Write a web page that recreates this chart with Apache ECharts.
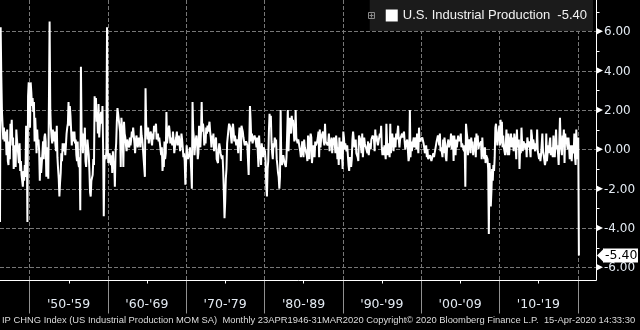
<!DOCTYPE html>
<html><head><meta charset="utf-8">
<script src="https://cdn.jsdelivr.net/npm/echarts@6/dist/echarts.min.js"></script>
<style>html,body{margin:0;padding:0;background:#000;}#c{width:640px;height:330px;}</style>
</head><body><div id="c"></div>
<script>
// Monthly % change, starting April 1946
const ip1940s = [
 -3.7, 6.2, 3.7, 1.9, 1.2, 0.5, 1.1, 0.4, 0.9,
 0.7, -0.3, 1.0, -0.6, -0.8, 0.4, -0.5, 1.3, 0.8, 1.5, 0.2, 0.6,
 -1.0, -0.4, 0.2, -0.9, 1.0, 0.5, 0.1, -0.3, -0.7, 0.3, -1.1, -0.6,
 -1.3, -1.2, -1.9, -1.1, -1.6, -0.8, -1.4, 1.2, 0.6, -3.7, 2.7, 3.4
];
const ip1950s = [
 3.2, 1.1, 3.4, 2.9, 2.2, 2.6, 1.9, 2.4, 0.4, 1.6, 0.8, -0.2,
 1.0, 0.3, 0.5, -0.1, -1.6, -0.4, -1.2, -0.7, -0.2, 0.4, -0.5, 0.6,
 0.8, 0.4, -1.4, 0.1, -0.6, -1.5, -1.6, 6.5, 2.1, 1.1, 0.6, 0.3,
 1.0, 0.6, 0.4, 0.9, 0.2, -0.1, 1.2, -0.4, -1.0, -1.5, -2.4, -1.7,
 -1.2, -0.2, -0.6, 0.3, 0.4, -0.1, 0.3, -0.3, 0.2, 0.8, 1.1, 1.3,
 2.4, 1.2, 2.2, 1.7, 1.8, 0.2, 0.9, 0.4, 0.6, 0.9, 0.3, 0.5,
 -0.3, -0.6, 0.4, -0.7, -0.9, -0.4, -3.1, 4.2, 0.9, 0.6, -0.2, 0.8,
 0.2, 1.1, -0.6, -0.9, -0.2, 0.5, 0.4, -0.3, -1.1, -2.2, -2.4, -1.6,
 -1.7, -1.3, -0.5, -0.8, 2.7, 2.0, 2.6, 1.4, 1.9, 0.8, 2.3, 0.6,
 1.2, 1.7, 1.9, 1.3, 2.2, 0.1, -3.4, -0.6, -0.3, -0.5, -0.1, 6.2
];
const ip1960s = [
 0.1, -0.7, -0.4, -0.2, -0.6, -0.8, -0.3, -1.2, -0.1, -0.9, -0.6, -1.9,
 -0.2, 0.3, 1.4, 2.1, 1.8, 1.5, 1.2, 0.9, -0.9, 1.6, 1.1, 0.6,
 -0.9, 1.4, 0.8, 0.6, 0.2, -0.1, 0.5, 0.3, 0.4, 0.1, 0.6, 0.2,
 0.5, 0.9, 0.6, 1.1, 1.0, 0.3, -0.2, 0.4, 0.7, 0.5, 0.1, 0.3,
 0.6, 0.4, 0.1, 1.2, 0.7, 0.5, 0.6, 0.4, 0.6, -1.4, 3.1, 1.2,
 1.0, 0.5, 1.1, 0.3, 0.7, 0.8, 0.9, 0.4, 0.2, 0.8, 0.5, 1.2,
 0.9, 1.0, 1.3, 0.5, 0.6, 0.8, 0.4, 0.6, 0.3, 0.2, -0.3, 0.1,
 -1.1, -0.6, -0.9, 0.4, -0.5, -0.2, 1.9, 0.3, 0.2, 0.4, 1.2, 0.9,
 0.3, 0.6, 0.4, 0.2, 0.9, 0.5, -0.2, 0.1, 0.4, 0.6, 0.9, 0.2,
 0.5, 0.7, 0.6, -0.1, 0.2, 0.8, 0.5, 0.1, -0.4, -0.2, -0.6, -1.8
];
const ip1970s = [
 -0.8, 0.2, -0.3, -0.5, -0.4, -0.2, 0.1, -0.4, -1.1, -2.0, 2.4, 1.0,
 0.6, -0.3, 0.2, 0.5, 0.7, 0.3, -0.5, -0.2, 1.2, 0.6, 0.1, 0.9,
 2.4, 0.9, 1.3, 1.0, 0.2, 0.6, 0.3, 1.1, 0.8, 1.2, 0.9, 1.0,
 1.4, 0.9, 0.6, 0.1, 0.7, 0.3, 0.8, -0.1, 0.2, 0.4, 0.6, -0.5,
 -0.4, -0.7, 0.0, 0.3, 0.1, -0.2, -0.1, -0.5, -0.3, -1.1, -2.2, -3.5,
 -2.7, -1.5, -1.0, 0.3, 0.4, 1.0, 1.3, 1.4, 1.1, 0.6, 0.3, 1.0,
 1.3, 0.9, 0.4, 0.7, 0.8, 0.2, 0.5, 0.3, -0.2, 0.6, 1.1, 0.9,
 -0.6, 1.2, 1.3, 0.9, 0.6, 0.7, 0.2, 0.3, 0.4, 0.3, 0.2, 0.1,
 -1.3, 0.4, 2.2, 1.5, 0.4, 0.8, 0.3, 0.5, 0.6, 0.7, 0.6, 0.4,
 0.1, 0.6, 0.5, -0.9, 0.7, 0.0, -0.3, -0.8, 0.3, 0.2, -0.4, 0.1
];
const ip1980s = [
 0.2, -0.1, -0.6, -1.9, -2.4, -1.0, -0.6, 0.9, 1.8, 1.5, 1.7, 0.4,
 -0.2, -0.5, 0.3, 0.1, 0.6, 0.3, 0.5, -0.5, -0.8, -1.2, -1.4, -2.0,
 -1.4, 2.0, -0.6, -0.8, -0.5, -0.3, -0.4, -0.7, -0.6, -0.9, -0.4, -0.5,
 2.0, -0.1, 0.9, 1.6, 1.1, 0.8, 1.7, 1.3, 1.5, 1.0, 0.4, 0.6,
 2.0, 0.6, 0.5, 0.3, 0.5, 0.4, 0.6, -0.1, -0.4, -0.2, 0.4, 0.1,
 -0.4, 0.5, 0.1, 0.0, 0.2, -0.3, -0.6, 0.7, 0.1, -0.5, 0.5, 0.8,
 0.6, -0.7, -0.6, 0.2, 0.1, -0.4, 0.4, 0.2, 0.3, 0.4, 0.6, 0.9,
 -0.4, 1.0, 0.1, 0.5, 0.7, 0.6, 0.9, 0.4, 0.2, 1.3, 0.4, 0.5,
 0.3, 0.2, 0.4, 0.8, -0.1, 0.5, 0.3, 0.6, -0.2, 0.4, 0.3, 0.6,
 0.2, -0.2, 0.7, 0.3, -0.5, 0.1, -0.8, 0.6, -0.3, -0.5, 0.4, 0.5
];
const ip1990s = [
 -1.0, 0.9, 0.6, 0.0, 0.3, 0.4, -0.1, 0.2, 0.2, -0.8, -1.1, -0.4,
 -0.6, -0.9, -0.5, 0.5, 0.9, 0.8, 0.1, 0.2, 0.5, -0.2, -0.3, -0.4,
 -0.6, 0.7, 0.6, 0.5, 0.4, -0.2, 0.8, -0.4, 0.2, 0.6, 0.3, 0.2,
 0.4, 0.3, -0.2, 0.4, -0.3, 0.1, 0.3, 0.0, 0.5, 0.6, 0.7, 0.6,
 0.5, -0.1, 1.0, 0.4, 0.7, 0.4, 0.2, 0.4, 0.3, 0.8, 0.6, 1.2,
 0.1, -0.3, 0.1, -0.3, 0.2, 0.2, -0.5, 1.3, 0.4, -0.3, 0.3, 0.2,
 -0.4, 1.3, -0.2, 0.6, 0.8, 0.7, -0.1, 0.6, 0.4, 0.1, 0.8, 0.5,
 0.4, 1.2, 0.5, 0.1, 0.5, 0.6, 0.4, 0.8, 0.6, 0.7, 0.9, 0.4,
 0.0, 0.3, 0.2, 0.5, 0.6, -0.6, -0.4, 2.0, -0.4, 0.4, -0.1, 0.2,
 0.3, 0.6, 0.1, 0.4, 0.6, 0.0, 0.8, 0.3, -0.2, 1.1, 0.4, 0.5
];
const ip2000s = [
 0.4, 0.5, 0.6, 0.7, 0.3, 0.1, -0.2, -0.1, 0.2, -0.4, 0.0, -0.5,
 -0.6, -0.5, -0.3, -0.4, -0.6, -0.7, -0.5, -0.2, -0.4, -0.5, -0.4, -0.3,
 0.4, 0.3, 0.7, 0.5, 0.2, 0.8, -0.1, 0.1, 0.2, -0.4, 0.5, -0.2,
 0.6, 0.3, -0.4, -0.6, 0.1, 0.0, 0.5, 0.1, 0.4, 0.2, 0.8, 0.0,
 0.3, 0.7, -0.6, 0.7, 0.8, -0.3, 0.5, 0.1, 0.2, 0.7, 0.4, 0.6,
 0.4, 0.8, 0.1, 0.3, 0.2, 0.3, -0.1, 0.2, -1.9, 1.3, 0.9, 0.6,
 -0.3, 0.3, 0.5, 0.3, -0.2, 0.6, 0.2, 0.4, -0.3, 0.1, -0.1, 0.6,
 -0.4, 0.8, 0.2, 0.7, 0.0, 0.2, 0.1, 0.2, 0.4, -0.5, 0.6, -0.1,
 0.0, -0.5, 0.1, -0.7, -0.3, -0.2, -0.5, -1.0, -4.3, -0.7, -1.3, -2.9,
 -2.1, -1.0, -1.6, -0.8, -1.1, -0.4, 1.1, 1.3, 0.7, 0.2, 0.6, 0.5
];
const ip2010s = [
 1.2, 0.2, 1.5, 0.3, 1.4, 0.1, 0.7, 0.1, 0.2, -0.3, 0.3, 1.0,
 0.0, -0.3, 0.8, -0.3, 0.2, 0.1, 0.8, 0.1, 0.3, 0.6, -0.1, 0.8,
 0.5, 0.2, -0.5, 1.0, 0.1, 0.1, 0.5, -1.0, 0.1, -0.2, 1.1, 0.3,
 -0.1, 0.4, 0.5, 0.2, 0.0, 0.3, -0.4, 0.6, 0.6, 0.1, 0.4, 0.3,
 -0.4, 1.0, 0.7, 0.0, 0.5, 0.3, 0.3, -0.1, 0.3, 0.0, 1.0, -0.1,
 -0.3, -0.5, -0.2, -0.6, -0.3, -0.3, 0.8, -0.1, -0.3, -0.3, -0.8, -0.6,
 0.8, -0.6, -0.7, 0.2, -0.2, 0.3, 0.6, -0.3, 0.1, 0.0, -0.4, 0.7,
 0.0, -0.4, 0.3, 1.0, 0.0, 0.2, -0.2, -0.8, -0.7, 1.6, 0.3, 0.4,
 -0.3, 0.7, 0.5, 1.0, -0.7, 0.8, 0.4, 0.6, 0.2, 0.0, 0.6, 0.1,
 -0.5, -0.4, 0.2, -0.6, 0.2, 0.2, -0.2, 0.8, -0.4, -0.8, 1.0, -0.3
];
const ip2020s = [-0.5, 0.6, -5.4];

const startYear = 1946, startMonth = 4;
const seriesName = 'U.S. Industrial Production';
const yTicks = [-6, -4, -2, 0, 2, 4, 6];
const yMinorTicks = [-5, -3, -1, 1, 3, 5, 7];
const decadeTicks = [1950, 1960, 1970, 1980, 1990, 2000, 2010, 2020];
const decadeLabelPos = [1955, 1965, 1975, 1985, 1995, 2005, 2015];
const footerText = 'IP CHNG Index (US Industrial Production MOM SA)  Monthly 23APR1946-31MAR2020 Copyright\u00A9 2020 Bloomberg Finance L.P.  15-Apr-2020 14:33:30';

const values = [].concat(ip1940s, ip1950s, ip1960s, ip1970s, ip1980s, ip1990s, ip2000s, ip2010s, ip2020s);
const data = values.map((v, i) => [startYear + (startMonth - 1 + i) / 12, v]);
const last = values[values.length - 1];

const X_MIN = 1946.25, X_MAX = 2022.35, Y_MIN = -6.645, Y_MAX = 7.59;
const lblColor = '#e4ebf3';
const lblFont = '12.5px "DejaVu Sans"';
const snap = v => Math.round(v) + 0.5;
const dashStyle = () => ({ stroke: '#777777', lineWidth: 1, lineDash: 'dashed' });
const decadeLabel = v => {
  const d = Math.floor(v / 10) * 10;
  return "'" + String(d % 100).padStart(2, '0') + "-'" + String((d + 9) % 100).padStart(2, '0');
};

const chart = echarts.init(document.getElementById('c'));
chart.setOption({
  backgroundColor: '#000',
  animation: false,
  title: {
    text: footerText, left: 2, top: 316, padding: 0,
    textStyle: { color: '#dcdcdc', fontSize: 9.4, fontWeight: 'normal', fontFamily: 'Liberation Sans' }
  },
  legend: {
    data: [{ name: seriesName, icon: 'rect' }],
    right: 47, top: 0, z: 30,
    backgroundColor: '#1b1b1b',
    padding: [9, 6, 9, 16],
    itemWidth: 12, itemHeight: 12,
    selectedMode: false,
    formatter: n => n + '  ' + last.toFixed(2),
    textStyle: { color: '#f2f2f2', fontSize: 13, fontFamily: 'Liberation Sans' }
  },
  graphic: [
    { type: 'rect', shape: { x: 368.5, y: 12.5, width: 6, height: 6 }, style: { fill: 'none', stroke: '#8a8a8a', lineWidth: 1 }, z: 100 },
    { type: 'line', shape: { x1: 369.5, y1: 15.5, x2: 373.5, y2: 15.5 }, style: { stroke: '#8a8a8a', lineWidth: 1 }, z: 100 },
    { type: 'line', shape: { x1: 371.5, y1: 13.5, x2: 371.5, y2: 17.5 }, style: { stroke: '#8a8a8a', lineWidth: 1 }, z: 100 }
  ],
  grid: { left: 0, top: 0, width: 596, height: 280 },
  xAxis: { type: 'value', min: X_MIN, max: X_MAX, show: false },
  yAxis: { type: 'value', min: Y_MIN, max: Y_MAX, show: false },
  series: [
    {
      name: 'hgrid', type: 'custom', z: 1, clip: false, silent: true,
      data: yTicks.map(v => [X_MIN, v]),
      renderItem: (p, api) => {
        const v = api.value(1);
        const a = api.coord([X_MIN, v]), b = api.coord([X_MAX, v]);
        const y = snap(a[1]);
        return { type: 'line', shape: { x1: a[0], y1: y, x2: b[0], y2: y }, style: dashStyle() };
      }
    },
    {
      name: 'vgrid', type: 'custom', z: 1, clip: false, silent: true,
      data: decadeTicks.map(v => [v, Y_MIN]),
      renderItem: (p, api) => {
        const v = api.value(0);
        const a = api.coord([v, Y_MAX]), b = api.coord([v, Y_MIN]);
        const x = snap(a[0]), yb = snap(b[1]);
        return {
          type: 'group', children: [
            { type: 'line', shape: { x1: x, y1: a[1], x2: x, y2: yb }, style: dashStyle() },
            { type: 'line', shape: { x1: x, y1: yb, x2: x, y2: yb + 33 }, style: { stroke: '#909090', lineWidth: 1 } }
          ]
        };
      }
    },
    {
      name: seriesName, type: 'line', data: data, z: 3,
      showSymbol: false, symbol: 'none',
      lineStyle: { color: '#ffffff', width: 2 },
      itemStyle: { color: '#ffffff' },
      clip: true
    },
    {
      name: 'axes', type: 'custom', z: 5, clip: false, silent: true,
      data: [[X_MAX, Y_MIN]],
      renderItem: (p, api) => {
        const o = api.coord([X_MIN, Y_MIN]), c = api.coord([X_MAX, Y_MIN]), t = api.coord([X_MAX, Y_MAX]);
        const y = snap(o[1]), x = snap(c[0]);
        return {
          type: 'group', children: [
            { type: 'line', shape: { x1: o[0], y1: y, x2: x, y2: y }, style: { stroke: '#ffffff', lineWidth: 1 } },
            { type: 'line', shape: { x1: x, y1: t[1], x2: x, y2: y }, style: { stroke: '#ffffff', lineWidth: 1 } }
          ]
        };
      }
    },
    {
      name: 'xLabels', type: 'custom', z: 5, clip: false, silent: true,
      data: decadeLabelPos.map(v => [v, Y_MIN]),
      renderItem: (p, api) => {
        const v = api.value(0);
        const c = api.coord([v, Y_MIN]);
        const x = snap(c[0]), y = snap(c[1]);
        return {
          type: 'group', children: [
            { type: 'line', shape: { x1: x, y1: y, x2: x, y2: y + 3 }, style: { stroke: '#ffffff', lineWidth: 1 } },
            { type: 'text', x: c[0], y: y + 24, style: { text: decadeLabel(v), fill: lblColor, font: lblFont, align: 'center', verticalAlign: 'middle' } }
          ]
        };
      }
    },
    {
      name: 'yMinor', type: 'custom', z: 5, clip: false, silent: true,
      data: yMinorTicks.map(v => [X_MAX, v]),
      renderItem: (p, api) => {
        const c = api.coord([X_MAX, api.value(1)]);
        const x = snap(c[0]), y = snap(c[1]);
        return { type: 'line', shape: { x1: x, y1: y, x2: x + 3, y2: y }, style: { stroke: '#ffffff', lineWidth: 1 } };
      }
    },
    {
      name: 'yLabels', type: 'custom', z: 5, clip: false, silent: true,
      data: yTicks.map(v => [X_MAX, v]),
      renderItem: (p, api) => {
        const v = api.value(1);
        const c = api.coord([X_MAX, v]);
        const x = c[0], y = c[1];
        return {
          type: 'group', children: [
            { type: 'polygon', shape: { points: [[x + 1, y - 3], [x + 7, y], [x + 1, y + 3]] }, style: { fill: '#ffffff' } },
            { type: 'text', x: x + 8, y: y + 1, style: { text: v.toFixed(2), fill: lblColor, font: '12px "DejaVu Sans"', align: 'left', verticalAlign: 'middle' } }
          ]
        };
      }
    },
    {
      name: 'lastValue', type: 'custom', z: 20, clip: false, silent: true,
      data: [[X_MAX, last]],
      renderItem: (p, api) => {
        const c = api.coord([X_MAX, api.value(1)]);
        const x = c[0], y = c[1];
        return {
          type: 'group', children: [
            { type: 'polygon', shape: { points: [[x + 1, y], [x + 8, y - 7], [x + 8, y + 7]] }, style: { fill: '#ffffff' } },
            { type: 'rect', shape: { x: x + 7, y: y - 7, width: 35, height: 14 }, style: { fill: '#ffffff' } },
            { type: 'text', x: x + 9, y: y + 0.5, style: { text: api.value(1).toFixed(2), fill: '#000000', font: '12.5px "DejaVu Sans"', verticalAlign: 'middle', align: 'left' } }
          ]
        };
      }
    }
  ]
});
</script></body></html>
